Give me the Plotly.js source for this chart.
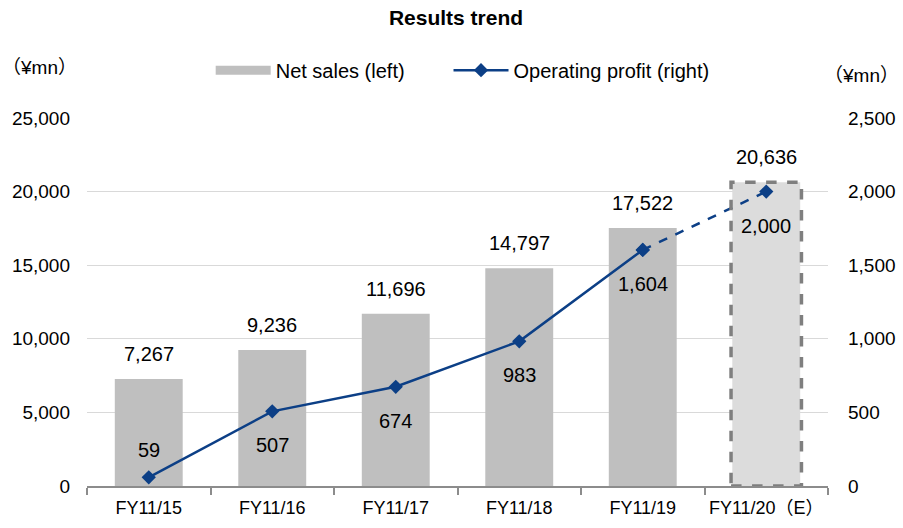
<!DOCTYPE html>
<html><head><meta charset="utf-8">
<script src="https://cdn.plot.ly/plotly-3.0.1.min.js"></script>
<style>html,body{margin:0;padding:0;background:#fff}#c{width:903px;height:528px}</style>
</head><body><div id="c"></div>
<script>
const categories = ["FY11/15","FY11/16","FY11/17","FY11/18","FY11/19","FY11/20（E）"];
const netSales = [7267, 9236, 11696, 14797, 17522, 20636];
const opProfit = [59, 507, 674, 983, 1604, 2000];
const profitLabelAbove = [true, false, false, false, false, false];
const leftTicks = [0, 5000, 10000, 15000, 20000, 25000];
const rightTicks = [0, 500, 1000, 1500, 2000, 2500];

const FONT = '"Liberation Sans", Arial, "Noto Sans CJK JP", sans-serif';
const fmt = v => v.toLocaleString('en-US');
const n = categories.length;
const BW = 0.55;
const BLUE = '#0c3f86';
const NB = '\u00A0';

const barColors = categories.map((c,i)=> i===n-1 ? '#dcdcdc' : '#bfbfbf');

const traces = [
  {type:'bar', x:categories, y:netSales, name:'Net sales (left)', width:BW, showlegend:false,
   marker:{color:barColors, line:{width:0}}, yaxis:'y', hoverinfo:'skip'},
  // legend proxy for the bars (wide flat swatch like the reference)
  {type:'scatter', mode:'lines', x:[null], y:[null], name:'Net sales (left)' + NB.repeat(7),
   line:{color:'#bfbfbf', width:9}, yaxis:'y'},
  {type:'scatter', mode:'lines+markers', x:categories.slice(0,n-1), y:opProfit.slice(0,n-1),
   name:'Operating profit (right)', yaxis:'y2',
   line:{color:BLUE, width:2.5}, marker:{symbol:'diamond', size:11, color:BLUE}},
  {type:'scatter', mode:'lines+markers', x:categories.slice(n-2), y:opProfit.slice(n-2),
   showlegend:false, yaxis:'y2',
   line:{color:BLUE, width:2.5, dash:'dash'}, marker:{symbol:'diamond', size:11, color:BLUE}}
];

const annotations = [];
categories.forEach((c,i)=>{
  annotations.push({x:c, y:netSales[i], xref:'x', yref:'y', text:fmt(netSales[i]),
    showarrow:false, yshift:25, font:{family:FONT, size:20, color:'#000'}});
  annotations.push({x:c, y:opProfit[i], xref:'x', yref:'y2', text:fmt(opProfit[i]),
    showarrow:false, yshift: profitLabelAbove[i] ? 27 : -34, font:{family:FONT, size:20, color:'#000'}});
});
annotations.push({xref:'paper', yref:'paper', x:-0.117, y:1.138, xanchor:'left', yanchor:'middle',
  text:'（¥mn）', showarrow:false, font:{family:FONT, size:19, color:'#000'}});
annotations.push({xref:'paper', yref:'paper', x:1.099, y:1.115, xanchor:'right', yanchor:'middle',
  text:'（¥mn）', showarrow:false, font:{family:FONT, size:19, color:'#000'}});

const shapes = [{
  type:'rect', xref:'x', yref:'y', layer:'above',
  x0:(n-1)-BW/2-0.01, x1:(n-1)+BW/2+0.01, y0:0, y1:netSales[n-1],
  line:{color:'#7f7f7f', width:3.5, dash:'dash'}, fillcolor:'rgba(0,0,0,0)'
}];

const layout = {
  width:903, height:528,
  margin:{l:87, r:75, t:118, b:42},
  paper_bgcolor:'#fff', plot_bgcolor:'#fff',
  font:{family:FONT, size:20, color:'#000'},
  title:{text:'<b>Results trend</b>', x:0.505, xanchor:'center', y:0.966, yanchor:'middle',
    font:{family:FONT, size:21, color:'#000'}},
  showlegend:true,
  legend:{orientation:'h', x:0.507, xanchor:'center', y:1.13, yanchor:'middle',
    font:{family:FONT, size:20, color:'#000'}, itemwidth:55, traceorder:'normal',
    bgcolor:'rgba(0,0,0,0)'},
  xaxis:{type:'category', showgrid:false, showline:true, linecolor:'#8c8c8c', linewidth:2,
    ticks:'outside', tickson:'boundaries', ticklen:7, tickcolor:'#8c8c8c', tickwidth:2,
    tickangle:0, ticklabelstandoff:4, tickfont:{family:FONT, size:18, color:'#000'}, zeroline:false},
  yaxis:{range:[0,25000], tickvals:leftTicks, ticktext:leftTicks.map(fmt),
    showgrid:true, gridcolor:'#d9d9d9', gridwidth:1, zeroline:false, showline:false,
    ticks:'', tickfont:{family:FONT, size:19, color:'#000'}, ticklabelstandoff:16},
  yaxis2:{range:[0,2500], overlaying:'y', side:'right', tickvals:rightTicks, ticktext:rightTicks.map(fmt),
    showgrid:false, zeroline:false, showline:false, ticks:'',
    tickfont:{family:FONT, size:19, color:'#000'}, ticklabelstandoff:19},
  bargap:0.45,
  annotations:annotations,
  shapes:shapes
};

Plotly.newPlot('c', traces, layout, {staticPlot:true, displayModeBar:false});
</script>
</body></html>
